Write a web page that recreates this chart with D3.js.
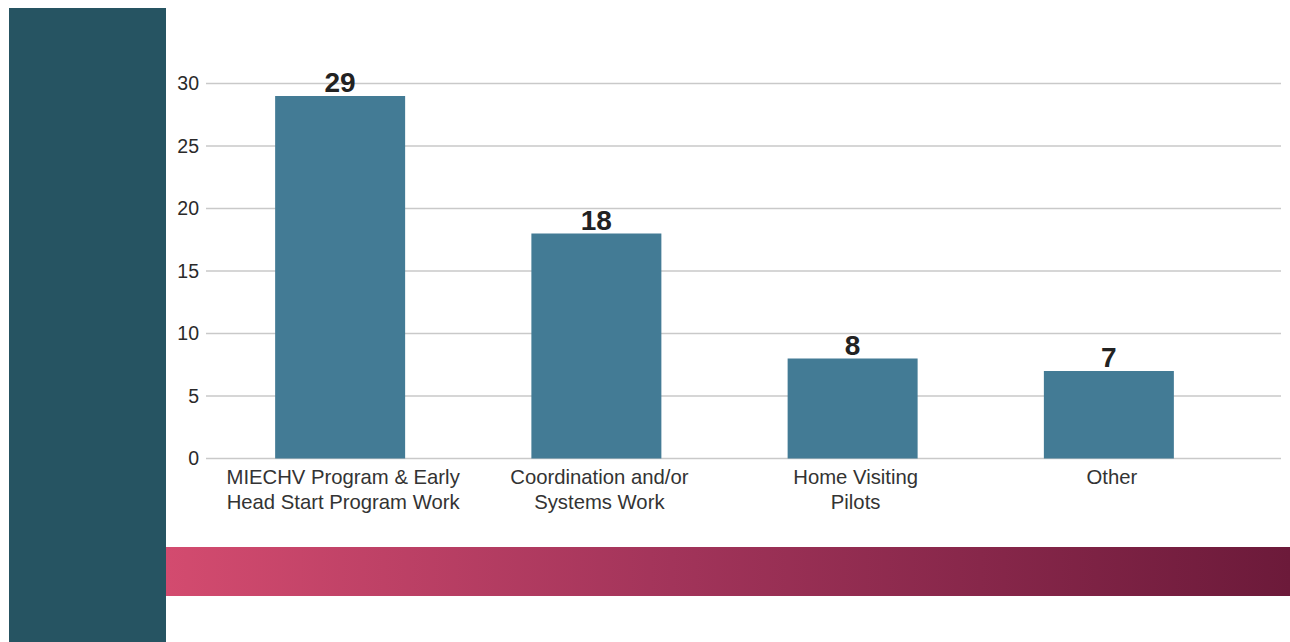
<!DOCTYPE html>
<html>
<head>
<meta charset="utf-8">
<script src="https://cdn.jsdelivr.net/npm/d3@7"></script>
<style>
  body { margin: 0; background: #fff; }
  svg text { font-family: "Liberation Sans", Arial, Helvetica, sans-serif; }
</style>
</head>
<body>
<div id="chart"></div>
<script>
// bar chart data
let categories = [
  ["MIECHV Program & Early", "Head Start Program Work"],
  ["Coordination and/or", "Systems Work"],
  ["Home Visiting", "Pilots"],
  ["Other"]
];
let values = [29, 18, 8, 7];
let yTicks = [0, 5, 10, 15, 20, 25, 30];

let W = 1290, H = 642;

let svg = d3.select("#chart").append("svg")
  .attr("width", W)
  .attr("height", H);

// gradient for the bottom band
let defs = svg.append("defs");
let grad = defs.append("linearGradient")
  .attr("id", "band")
  .attr("x1", "0%").attr("x2", "100%")
  .attr("y1", "0%").attr("y2", "0%");
grad.append("stop").attr("offset", "0%").attr("stop-color", "#d34b6f");
grad.append("stop").attr("offset", "45%").attr("stop-color", "#a2345a");
grad.append("stop").attr("offset", "100%").attr("stop-color", "#6c1a3a");

// left dark panel
svg.append("rect")
  .attr("x", 9).attr("y", 8)
  .attr("width", 157).attr("height", H - 8)
  .attr("fill", "#265462");

// bottom gradient band
svg.append("rect")
  .attr("x", 166).attr("y", 547)
  .attr("width", W - 166).attr("height", 49)
  .attr("fill", "url(#band)");

// scales
let x = d3.scaleBand()
  .domain(d3.range(values.length))
  .range([212, 1237])
  .paddingInner(0.4927)
  .paddingOuter(0.2464);

let y = d3.scaleLinear()
  .domain([0, 30])
  .range([458.5, 83.5]);

// gridlines
svg.append("g")
  .selectAll("line")
  .data(yTicks)
  .enter()
  .append("line")
  .attr("x1", 206)
  .attr("x2", 1281)
  .attr("y1", d => y(d))
  .attr("y2", d => y(d))
  .attr("stroke", "#c9c9c9")
  .attr("stroke-width", 1.3);

// y axis labels
svg.append("g")
  .selectAll("text")
  .data(yTicks)
  .enter()
  .append("text")
  .attr("x", 199)
  .attr("y", d => y(d))
  .attr("dy", "0.35em")
  .attr("text-anchor", "end")
  .attr("font-size", 19.5)
  .attr("fill", "#2a2a2a")
  .text(d => d);

// bars
svg.append("g")
  .selectAll("rect")
  .data(values)
  .enter()
  .append("rect")
  .attr("x", (d, i) => x(i))
  .attr("y", d => y(d))
  .attr("width", x.bandwidth())
  .attr("height", d => y(0) - y(d))
  .attr("fill", "#437b95");

// value labels
svg.append("g")
  .selectAll("text")
  .data(values)
  .enter()
  .append("text")
  .attr("x", (d, i) => x(i) + x.bandwidth() / 2)
  .attr("y", d => y(d) - 4)
  .attr("text-anchor", "middle")
  .attr("font-size", 28)
  .attr("font-weight", "bold")
  .attr("fill", "#222")
  .text(d => d);

// category labels
let cats = svg.append("g")
  .selectAll("text")
  .data(categories)
  .enter()
  .append("text")
  .attr("x", (d, i) => x(i) + x.bandwidth() / 2 + 3)
  .attr("y", 484)
  .attr("text-anchor", "middle")
  .attr("font-size", 20.3)
  .attr("fill", "#333");

cats.selectAll("tspan")
  .data(d => d)
  .enter()
  .append("tspan")
  .attr("x", function() { return d3.select(this.parentNode).attr("x"); })
  .attr("dy", (d, i) => i === 0 ? 0 : 24.5)
  .text(d => d);
</script>
</body>
</html>
